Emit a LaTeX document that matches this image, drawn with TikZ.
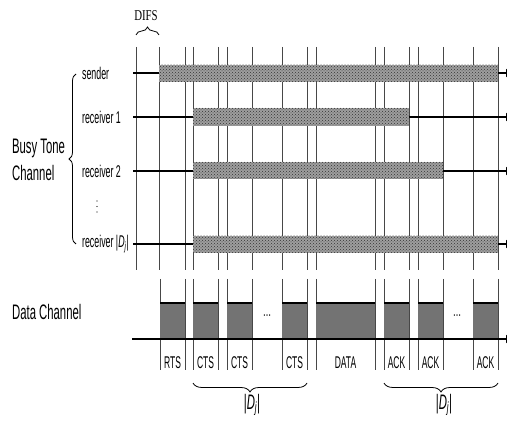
\documentclass[tikz,border=0pt]{standalone}
\usepackage{fontspec}
\setmainfont{Liberation Sans}
\newfontfamily\difsfont{Liberation Serif}
\usetikzlibrary{decorations.pathreplacing,patterns,arrows.meta}

\begin{document}
\begin{tikzpicture}[x=1pt, y=-1pt,
  vline/.style={black!72, line width=0.9pt},
  hline/.style={black, line width=1.6pt},
  tone/.style={fill=black!38},
  tonedots/.style={pattern=crosshatch dots, pattern color=black!80},
  pkt/.style={fill=black!55},
  lbl/.style={font=\fontsize{17}{19}\selectfont, xscale=0.52, inner sep=0pt},
  big/.style={font=\fontsize{21}{27}\selectfont, xscale=0.54, inner sep=0pt,
              align=left},
  fr/.style={font=\fontsize{17}{19}\selectfont, xscale=0.5, inner sep=0pt},
  brc/.style={decorate, decoration={brace, amplitude=#1}, line width=0.8pt},
  brc/.default=8,
  arr/.style={hline, -{Latex[length=8pt, width=9pt]}},
]
\useasboundingbox (0,0) rectangle (507,425);
\clip (0,0) rectangle (507,425);

% ---- Slot boundaries (busy tone part) ---------------------------------------
\draw[vline] (136,47) -- (136,270) (159,47) -- (159,270)
  (185,47) -- (185,270) (193,47) -- (193,270) (218,47) -- (218,270)
  (227,47) -- (227,270) (252,47) -- (252,270) (282,47) -- (282,270)
  (307,47) -- (307,270) (316,47) -- (316,270) (375,47) -- (375,270)
  (384,47) -- (384,270) (409,47) -- (409,270) (418,47) -- (418,270)
  (443,47) -- (443,270) (473,47) -- (473,270) (498,47) -- (498,270);

% ---- Slot boundaries (data part) --------------------------------------------
\draw[vline] (160,279) -- (160,370)
  (185,279) -- (185,370) (193,279) -- (193,370) (218,279) -- (218,370)
  (227,279) -- (227,370) (252,279) -- (252,370) (282,279) -- (282,370)
  (307,279) -- (307,370) (316,279) -- (316,370) (375,279) -- (375,370)
  (384,279) -- (384,370) (409,279) -- (409,370) (418,279) -- (418,370)
  (443,279) -- (443,370) (473,279) -- (473,370) (498,279) -- (498,370);

% ---- DIFS -------------------------------------------------------------------
\node[font=\difsfont\fontsize{15}{17}\selectfont, xscale=0.72, inner sep=0pt]
  (difs) at (146,16) {DIFS};
\draw[brc=8] (136,35) -- (159,35);

% ---- Busy tone channel ------------------------------------------------------
\node[big, anchor=west] (btc) at (12,160) {Busy Tone\\Channel};
\draw[brc=7] (76,244) -- (76,74);

\node[lbl, anchor=west] (snd) at (82,73) {sender};
\node[lbl, anchor=west] (rx1) at (82,117) {receiver 1};
\node[lbl, anchor=west] (rx2) at (82,171) {receiver 2};
\fill (97,201) circle (0.7) (97,206.5) circle (0.7) (97,212) circle (0.7);
\node[lbl, anchor=west] (rxd) at (82,244)
  {receiver |\textit{D}\textsubscript{\textit{j}}|};

\coordinate (sndA) at (133,73);
\coordinate (sndB) at (514,73);
\coordinate (rx1A) at (133,117);
\coordinate (rx1B) at (514,117);
\coordinate (rx2A) at (133,171);
\coordinate (rx2B) at (514,171);
\coordinate (rxdA) at (133,244);
\coordinate (rxdB) at (514,244);

\draw[arr] (sndA) -- (sndB);
\draw[arr] (rx1A) -- (rx1B);
\draw[arr] (rx2A) -- (rx2B);
\draw[arr] (rxdA) -- (rxdB);

\fill[tone] (159,65) rectangle (498,82);
\fill[tonedots] (159,65) rectangle (498,82);
\fill[tone] (193,108) rectangle (409,126);
\fill[tonedots] (193,108) rectangle (409,126);
\fill[tone] (193,162) rectangle (443,179);
\fill[tonedots] (193,162) rectangle (443,179);
\fill[tone] (193,236) rectangle (498,253);
\fill[tonedots] (193,236) rectangle (498,253);

% ---- Data channel -----------------------------------------------------------
\node[big, anchor=west] (dch) at (12,312) {Data Channel};

\fill[pkt] (160,303) rectangle (185,339);
\fill[pkt] (193,303) rectangle (218,339);
\fill[pkt] (227,303) rectangle (252,339);
\fill[pkt] (282,303) rectangle (307,339);
\fill[pkt] (316,303) rectangle (375,339);
\fill[pkt] (384,303) rectangle (409,339);
\fill[pkt] (418,303) rectangle (443,339);
\fill[pkt] (473,303) rectangle (498,339);
\draw[black, line width=1.3pt] (160,303) -- (185,303) (193,303) -- (218,303)
  (227,303) -- (252,303) (282,303) -- (307,303) (316,303) -- (375,303)
  (384,303) -- (409,303) (418,303) -- (443,303) (473,303) -- (498,303);

\coordinate (dchA) at (132,339);
\coordinate (dchB) at (514,339);
\draw[arr] (dchA) -- (dchB);

\node[fr] (dots1) at (267,316) {\dots};
\node[fr] (dots2) at (457,316) {\dots};

\node[fr] (rts)  at (172.5,363) {RTS};
\node[fr] (cts1) at (205.5,363) {CTS};
\node[fr] (cts2) at (239.5,363) {CTS};
\node[fr] (cts3) at (294.5,363) {CTS};
\node[fr] (data) at (345.5,363) {DATA};
\node[fr] (ack1) at (396.5,363) {ACK};
\node[fr] (ack2) at (430.5,363) {ACK};
\node[fr] (ack3) at (485.5,363) {ACK};

% ---- |D_j| braces -----------------------------------------------------------
\draw[brc=9] (307,383) -- (193,383);
\draw[brc=9] (498,383) -- (384,383);
\node[big] (dj1) at (252,405) {|\textit{D}\textsubscript{\textit{j}}|};
\node[big] (dj2) at (444,405) {|\textit{D}\textsubscript{\textit{j}}|};

\end{tikzpicture}
\end{document}
